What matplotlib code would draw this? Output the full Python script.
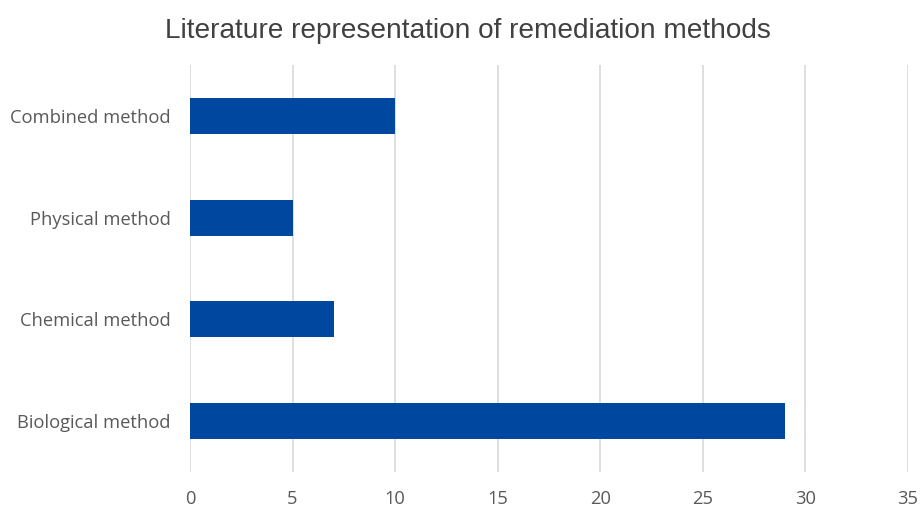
import matplotlib.pyplot as plt

categories = ['Biological method', 'Chemical method', 'Physical method', 'Combined method']
counts = [29, 7, 5, 10]
x_ticks = [0, 5, 10, 15, 20, 25, 30, 35]

fig = plt.figure(figsize=(9.21, 5.09), dpi=100)
ax = fig.add_axes([0.2063, 0.0727, 0.7796, 0.7996])

ax.barh(categories, counts, height=0.355, color='#0047A0', zorder=3)

ax.set_xlim(0, 35)
ax.set_ylim(-0.5, 3.5)
ax.set_xticks(x_ticks)
ax.grid(axis='x', color='#D9D9D9', linewidth=1.2, zorder=0)
for s in ax.spines.values():
    s.set_visible(False)
ax.tick_params(length=0, colors='#595959', labelsize=13.2)
for lbl in ax.get_yticklabels() + ax.get_xticklabels():
    lbl.set_family('Open Sans')
ax.tick_params(axis='y', pad=14)
ax.tick_params(axis='x', pad=13)

fig.suptitle('Literature representation of remediation methods', x=0.508, y=0.965,
             fontsize=20.2, color='#404040', family='Liberation Sans')

fig.savefig('out.png', dpi=100)
